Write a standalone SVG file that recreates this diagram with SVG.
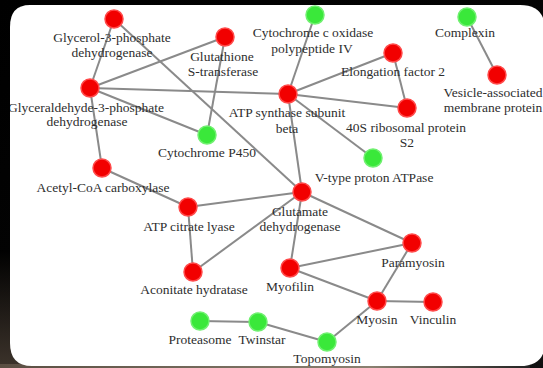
<svg xmlns="http://www.w3.org/2000/svg" width="543" height="368" viewBox="0 0 543 368">
<defs>
<linearGradient id="bg" x1="0" y1="0" x2="1" y2="1">
<stop offset="0" stop-color="#000"/>
<stop offset="0.6" stop-color="#050505"/>
<stop offset="1" stop-color="#111"/>
</linearGradient>
<linearGradient id="bl" x1="0" y1="0" x2="0" y2="1">
<stop offset="0" stop-color="#000"/>
<stop offset="1" stop-color="#4a3f35"/>
</linearGradient>
<linearGradient id="strip" x1="0" y1="0" x2="1" y2="0">
<stop offset="0" stop-color="#5a4e42"/>
<stop offset="0.7" stop-color="#8a8070"/>
<stop offset="1" stop-color="#222"/>
</linearGradient>
<clipPath id="panelClip"><path d="M30,5 H520 Q545,5 545,30 V342 Q545,366 520,366 H32 Q10,366 10,343 V27 Q10,5 30,5 Z"/></clipPath>
<style>
.e{stroke:#8a8a8a;stroke-width:2;fill:none}
.r{fill:#f20000;stroke:#ff4a4a;stroke-width:1.5}
.g{fill:#3ae83a;stroke:#70f070;stroke-width:1.5}
text{font-family:"Liberation Serif","Times New Roman",serif;font-size:13.5px;fill:#2e2e2e;text-anchor:middle}
</style>
</defs>
<rect width="543" height="368" fill="url(#bg)"/>
<rect x="0" y="250" width="60" height="118" fill="url(#bl)" opacity="0.8"/>
<rect x="0" y="364" width="530" height="4" fill="url(#strip)"/>
<path d="M30,5 H520 Q545,5 545,30 V342 Q545,366 520,366 H32 Q10,366 10,343 V27 Q10,5 30,5 Z" fill="#fff"/>
<g clip-path="url(#panelClip)">
<g id="connectors">
<line class="e" x1="114" y1="19" x2="90" y2="88"/>
<line class="e" x1="114" y1="19" x2="302" y2="192"/>
<line class="e" x1="90" y1="88" x2="225" y2="37"/>
<line class="e" x1="90" y1="88" x2="288" y2="94"/>
<line class="e" x1="90" y1="88" x2="207" y2="135"/>
<line class="e" x1="90" y1="88" x2="102" y2="168"/>
<line class="e" x1="225" y1="37" x2="207" y2="135"/>
<line class="e" x1="102" y1="168" x2="188" y2="207"/>
<line class="e" x1="188" y1="207" x2="302" y2="192"/>
<line class="e" x1="188" y1="207" x2="193" y2="272"/>
<line class="e" x1="193" y1="272" x2="302" y2="192"/>
<line class="e" x1="302" y1="192" x2="288" y2="94"/>
<line class="e" x1="302" y1="192" x2="290" y2="268"/>
<line class="e" x1="302" y1="192" x2="412" y2="243"/>
<line class="e" x1="288" y1="94" x2="315" y2="15"/>
<line class="e" x1="288" y1="94" x2="393" y2="53"/>
<line class="e" x1="288" y1="94" x2="407" y2="108"/>
<line class="e" x1="288" y1="94" x2="373" y2="158"/>
<line class="e" x1="393" y1="53" x2="407" y2="108"/>
<line class="e" x1="467" y1="17" x2="497" y2="75"/>
<line class="e" x1="412" y1="243" x2="290" y2="268"/>
<line class="e" x1="412" y1="243" x2="377" y2="301"/>
<line class="e" x1="290" y1="268" x2="377" y2="301"/>
<line class="e" x1="377" y1="301" x2="433" y2="302"/>
<line class="e" x1="377" y1="301" x2="327" y2="342"/>
<line class="e" x1="258" y1="322" x2="327" y2="342"/>
<line class="e" x1="200" y1="321" x2="258" y2="322"/>
</g>
<g id="n-g3p"><circle class="r" cx="114" cy="19" r="9"/><text x="112" y="42">Glycerol-3-phosphate</text><text x="112" y="57">dehydrogenase</text></g>
<g id="n-gst"><circle class="r" cx="225" cy="37" r="9"/><text x="222" y="61">Glutathione</text><text x="223" y="76">S-transferase</text></g>
<g id="n-gapdh"><circle class="r" cx="90" cy="88" r="9"/><text x="86" y="112">Glyceraldehyde-3-phosphate</text><text x="87" y="126">dehydrogenase</text></g>
<g id="n-cox"><circle class="g" cx="315" cy="15" r="9"/><text x="313" y="37">Cytochrome c oxidase</text><text x="312" y="53">polypeptide IV</text></g>
<g id="n-cpx"><circle class="g" cx="467" cy="17" r="9"/><text x="465" y="37">Complexin</text></g>
<g id="n-vamp"><circle class="r" cx="497" cy="75" r="9"/><text x="493" y="97">Vesicle-associated</text><text x="493" y="112">membrane protein</text></g>
<g id="n-ef2"><circle class="r" cx="393" cy="53" r="9"/><text x="393" y="76">Elongation factor 2</text></g>
<g id="n-atps"><circle class="r" cx="288" cy="94" r="9"/><text x="287" y="117">ATP synthase subunit</text><text x="287" y="133">beta</text></g>
<g id="n-rps2"><circle class="r" cx="407" cy="108" r="9"/><text x="406" y="132">40S ribosomal protein</text><text x="407" y="147">S2</text></g>
<g id="n-p450"><circle class="g" cx="207" cy="135" r="9"/><text x="207" y="157">Cytochrome P450</text></g>
<g id="n-acc"><circle class="r" cx="102" cy="168" r="9"/><text x="103" y="192">Acetyl-CoA carboxylase</text></g>
<g id="n-acl"><circle class="r" cx="188" cy="207" r="9"/><text x="189" y="231">ATP citrate lyase</text></g>
<g id="n-vatp"><circle class="g" cx="373" cy="158" r="9"/><text x="374" y="182">V-type proton ATPase</text></g>
<g id="n-gdh"><circle class="r" cx="302" cy="192" r="9"/><text x="300" y="216">Glutamate</text><text x="300" y="231">dehydrogenase</text></g>
<g id="n-pmy"><circle class="r" cx="412" cy="243" r="9"/><text x="413" y="267">Paramyosin</text></g>
<g id="n-aco"><circle class="r" cx="193" cy="272" r="9"/><text x="194" y="294">Aconitate hydratase</text></g>
<g id="n-myf"><circle class="r" cx="290" cy="268" r="9"/><text x="290" y="291">Myofilin</text></g>
<g id="n-myo"><circle class="r" cx="377" cy="301" r="9"/><text x="377" y="324">Myosin</text></g>
<g id="n-vin"><circle class="r" cx="433" cy="302" r="9"/><text x="433" y="324">Vinculin</text></g>
<g id="n-pro"><circle class="g" cx="200" cy="321" r="9"/><text x="200" y="344">Proteasome</text></g>
<g id="n-twi"><circle class="g" cx="258" cy="322" r="9"/><text x="262" y="344">Twinstar</text></g>
<g id="n-top"><circle class="g" cx="327" cy="342" r="9"/><text x="327" y="363">Topomyosin</text></g>
</g>
</svg>
